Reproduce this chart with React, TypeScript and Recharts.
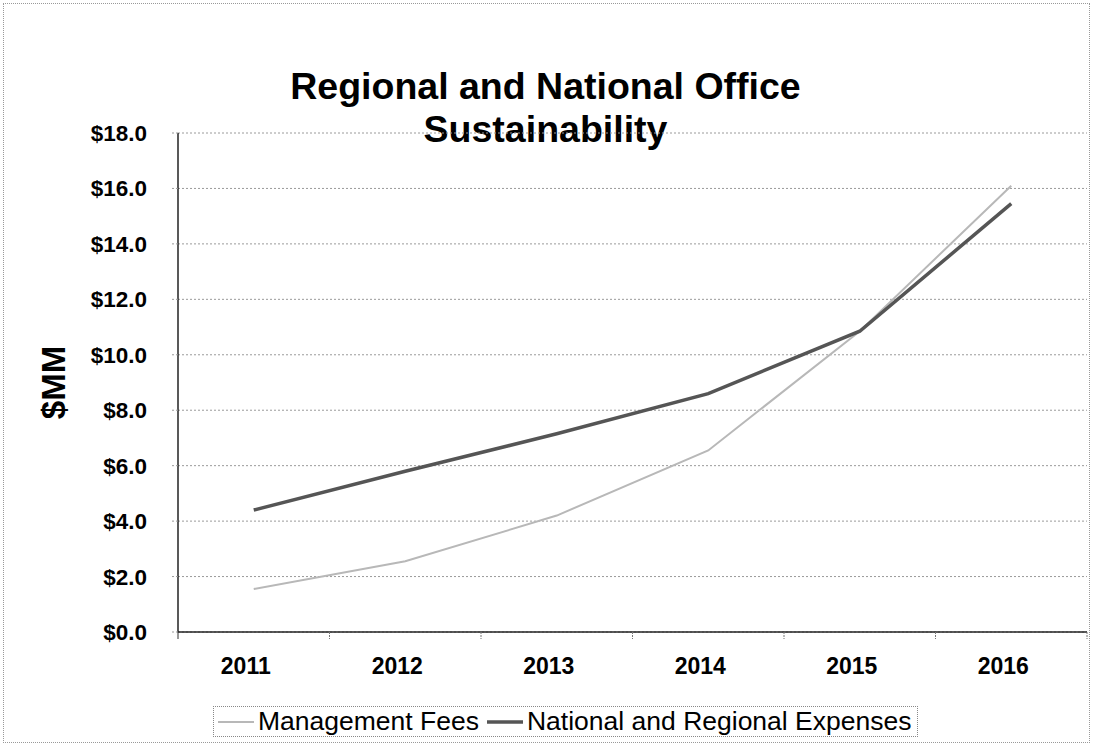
import React from 'react';
import { LineChart, Line, XAxis, YAxis, CartesianGrid, Legend } from 'recharts';

const years = ['2011', '2012', '2013', '2014', '2015', '2016'];
const managementFees = [1.55, 2.55, 4.2, 6.55, 10.85, 16.1];
const nationalRegionalExpenses = [4.4, 5.8, 7.15, 8.6, 10.85, 15.45];
const yTicks = [0, 2, 4, 6, 8, 10, 12, 14, 16, 18];
const seriesNames = ['Management Fees', 'National and Regional Expenses'];
const seriesColors = ['#b8b8b8', '#555555'];
const titleLines = ['Regional and National Office', 'Sustainability'];

const data = years.map((year, i) => ({
  year,
  mgmt: managementFees[i],
  national: nationalRegionalExpenses[i],
}));

const FONT = '"Liberation Sans", Arial, Helvetica, sans-serif';
const W = 1095;
const H = 747;
const MARGIN = { top: 133, right: 8, left: 108, bottom: 85 };
const Y_AXIS_W = 70;
const PLOT_W = W - MARGIN.left - MARGIN.right - Y_AXIS_W;

const XTick = (props: any) => {
  const { x, y, payload, index } = props;
  const bw = PLOT_W / years.length;
  return (
    <g>
      <line x1={x + bw / 2} x2={x + bw / 2} y1={y} y2={y + 7} stroke="#777" strokeDasharray="2 1" />
      {index === 0 && <line x1={x - bw / 2} x2={x - bw / 2} y1={y} y2={y + 7} stroke="#333" />}
      <text x={x - 8} y={y + 42} textAnchor="middle" fontFamily={FONT} fontWeight="bold" fontSize={23} fill="#000">
        {payload.value}
      </text>
    </g>
  );
};

const YLabel = (props: any) => {
  const vb = props.viewBox || { x: 108, y: 133, height: 500 };
  const cy = vb.y + vb.height / 2;
  const cx = 53;
  return (
    <text
      x={cx}
      y={cy}
      transform={`rotate(-90, ${cx}, ${cy})`}
      textAnchor="middle"
      dominantBaseline="central"
      fontFamily={FONT}
      fontWeight="bold"
      fontSize={33}
      fill="#000"
    >
      $MM
    </text>
  );
};

const LegendContent = (props: any) => {
  const payload = props.payload || [];
  return (
    <div
      style={{
        display: 'inline-flex',
        alignItems: 'center',
        border: '1px dotted #888',
        padding: '0 6px 0 4px',
        height: 29,
        fontFamily: FONT,
        fontSize: 26.5,
        color: '#000',
        background: '#fff',
        whiteSpace: 'nowrap',
      }}
    >
      {payload.map((p: any, i: number) => (
        <span key={i} style={{ display: 'inline-flex', alignItems: 'center', marginRight: i === 0 ? 8 : 0 }}>
          <svg width={36} height={10} style={{ marginRight: 4 }}>
            <line x1={0} x2={36} y1={5} y2={5} stroke={p.color} strokeWidth={i === 0 ? 2 : 3.5} />
          </svg>
          {p.value}
        </span>
      ))}
    </div>
  );
};

export default function App() {
  return (
    <div style={{ position: 'absolute', left: 0, top: 0, width: W, height: H, background: '#fff', fontFamily: FONT }}>
      <div
        style={{
          position: 'absolute',
          left: 3,
          top: 3,
          width: W - 8,
          height: H - 7,
          border: '1px dotted #999',
          boxSizing: 'border-box',
        }}
      />
      {titleLines.map((t, i) => (
        <div
          key={i}
          style={{
            position: 'absolute',
            left: 0,
            top: 65 + i * 43,
            width: W - 4,
            height: 43,
            textAlign: 'center',
            fontWeight: 'bold',
            fontSize: 37.5,
            lineHeight: '43px',
            color: '#000',
          }}
        >
          {t}
        </div>
      ))}
      <LineChart width={W} height={H} data={data} margin={MARGIN}>
        <CartesianGrid vertical={false} stroke="#9a9a9a" strokeDasharray="2 2" />
        <XAxis
          dataKey="year"
          scale="band"
          tickLine={false}
          tickSize={0}
          tickMargin={0}
          axisLine={{ stroke: '#222', strokeWidth: 1.5 }}
          tick={<XTick />}
          interval={0}
        />
        <YAxis
          width={Y_AXIS_W}
          domain={[0, 18]}
          ticks={yTicks}
          interval={0}
          tickFormatter={(v: number) => `$${v.toFixed(1)}`}
          tick={{ fontFamily: FONT, fontWeight: 'bold', fontSize: 22.5, fill: '#000' }}
          tickSize={6}
          tickMargin={25}
          tickLine={{ stroke: '#999', strokeDasharray: '2 2' }}
          axisLine={{ stroke: '#222', strokeWidth: 1.5 }}
          label={<YLabel />}
        />
        <YAxis
          yAxisId="right"
          orientation="right"
          width={0}
          tick={false}
          tickLine={false}
          axisLine={{ stroke: '#888', strokeDasharray: '2 1' }}
        />
        <Legend
          layout="horizontal"
          verticalAlign="middle"
          align="center"
          content={<LegendContent />}
          wrapperStyle={{ position: 'absolute', left: 213, top: 706, width: 'auto' }}
        />
        <Line
          type="linear"
          dataKey="mgmt"
          name={seriesNames[0]}
          stroke={seriesColors[0]}
          strokeWidth={2}
          dot={false}
          isAnimationActive={false}
        />
        <Line
          type="linear"
          dataKey="national"
          name={seriesNames[1]}
          stroke={seriesColors[1]}
          strokeWidth={3.5}
          dot={false}
          isAnimationActive={false}
        />
      </LineChart>
    </div>
  );
}
